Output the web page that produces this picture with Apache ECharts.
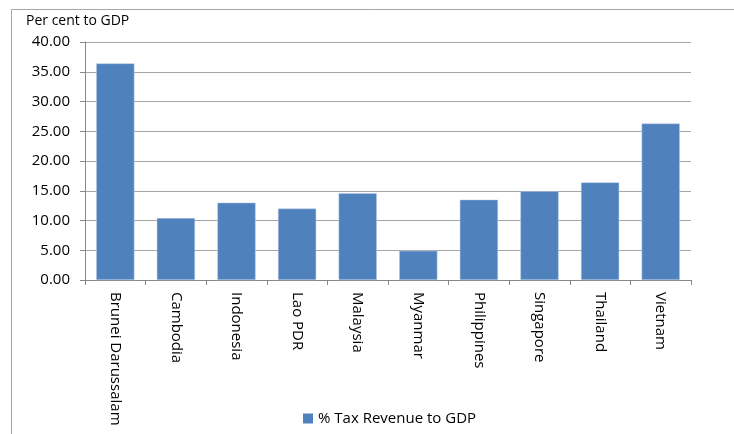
<!DOCTYPE html>
<html><head><meta charset="utf-8">
<script src="https://cdn.jsdelivr.net/npm/echarts@6/dist/echarts.min.js"></script>
<style>html,body{margin:0;padding:0;background:#fff}#c{width:734px;height:434px}</style>
</head><body><div id="c"></div>
<script>
const categories = ['Brunei Darussalam','Cambodia','Indonesia','Lao PDR','Malaysia','Myanmar','Philippines','Singapore','Thailand','Vietnam'];
const taxRevenue = [36.4, 10.4, 13.0, 12.0, 14.6, 4.9, 13.5, 14.9, 16.4, 26.3];
const seriesName = '% Tax Revenue to GDP';
const yTitle = 'Per cent to GDP';
const font = '"Open Sans", "Noto Sans", sans-serif';
const chart = echarts.init(document.getElementById('c'));
chart.setOption({
  animation: false,
  graphic: [
    {type:'rect', shape:{x:11.5,y:9.5,width:740,height:440}, style:{fill:'none',stroke:'#a6a6a6',lineWidth:1}, silent:true},
    {type:'text', left:26, top:14, style:{text:yTitle, font:'14px '+font, fill:'#000'}}
  ],
  grid: {left:85, right:43, top:42, bottom:154},
  legend: {bottom:3, left:298, itemWidth:10, itemHeight:10, itemGap:6, icon:'rect',
    itemStyle:{borderWidth:0},
    textStyle:{fontFamily:font, fontSize:15, color:'#000'}, data:[seriesName]},
  xAxis: {type:'category', data:categories,
    axisLine:{lineStyle:{color:'#888'}},
    axisTick:{show:true, alignWithLabel:false, length:5, lineStyle:{color:'#888'}},
    axisLabel:{rotate:-90, interval:0, margin:12, color:'#000', fontFamily:font, fontSize:15}},
  yAxis: {type:'value', min:0, max:40, interval:5,
    axisLine:{show:true, lineStyle:{color:'#888'}},
    axisTick:{show:true, length:5, lineStyle:{color:'#888'}},
    splitLine:{lineStyle:{color:'#a6a6a6'}},
    axisLabel:{formatter:v=>v.toFixed(2), color:'#000', fontFamily:font, fontSize:15, margin:15}},
  series: [{name:seriesName, type:'bar', data:taxRevenue, barCategoryGap:'37%',
    itemStyle:{color:'#4f81bd', borderColor:'#b9cde5', borderWidth:0.5}}]
});
</script></body></html>
